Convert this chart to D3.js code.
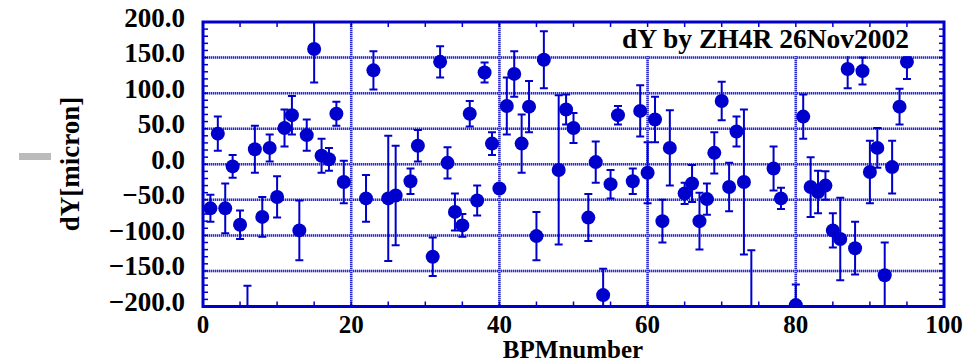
<!DOCTYPE html>
<html>
<head>
<meta charset="utf-8">
<script src="https://cdnjs.cloudflare.com/ajax/libs/d3/7.8.5/d3.min.js"></script>
<style>
    body { margin: 0; background: #fff; }
    text { font-family: "Liberation Serif", "Times New Roman", serif; font-weight: bold; fill: #000; }
</style>
</head>
<body>
<div id="chart"></div>
<script>
let bpm = [1, 2, 3, 4, 5, 6, 7, 8, 9, 10, 11, 12, 13, 14, 15, 16, 17, 18, 19, 22,
    23, 25, 26, 28, 29, 31, 32, 33, 34, 35, 36, 37, 38, 39, 40, 41, 42, 43, 44, 45,
    46, 48, 49, 50, 52, 53, 54, 55, 56, 58, 59, 60, 61, 62, 63, 65, 66, 67, 68, 69,
    70, 71, 72, 73, 74, 77, 78, 80, 81, 82, 83, 84, 85, 86, 87, 88, 89, 90, 91, 92,
    93, 94, 95]

let dy = [-62, 43, -62, -3, -85, -225, 21, -74, 23, -46, 51, 69, -93, 41, 162, 12, 7, 71, -25, -48,
    132, -48, -44, -24, 26, -130, 144, 2, -67, -86, 71, -51, 129, 29, -34, 82, 127, 29, 81, -101,
    147, -8, 77, 51, -75, 3, -184, -28, 69, -24, 75, -12, 63, -80, 23, -41, -27, -80, -49, 16,
    89, -32, 46, -25, -240, -6, -48, -198, 67, -32, -39, -30, -93, -105, 134, -118, 131, -11, 23, -156,
    -4, 81, 144]

let dyErr = [19, 24, 35, 16, 20, 54, 33, 28, 19, 29, 26, 27, 42, 22, 47, 24, 16, 17, 30, 33,
    27, 88, 70, 18, 22, 27, 22, 22, 26, 16, 18, 21, 14, 16, 5, 40, 32, 41, 36, 34,
    40, 105, 21, 21, 33, 29, 37, 20, 13, 18, 36, 43, 32, 30, 53, 15, 26, 40, 22, 29,
    27, 34, 21, 102, 119, 31, 15, 29, 31, 42, 30, 20, 24, 58, 27, 37, 19, 44, 28, 46,
    37, 25, 24]

let yTicks = [200, 150, 100, 50, 0, -50, -100, -150, -200]
let xTicks = [0, 20, 40, 60, 80, 100]

let blue = "#0000cc"

let width = 979
let height = 364
let plot = { left: 203, right: 944, top: 22, bottom: 306.5 }

let svg = d3.select('#chart')
    .append('svg')
    .attr('width', width)
    .attr('height', height)

let xScale = d3.scaleLinear()
    .domain([0, 100])
    .range([plot.left, plot.right])

let yScale = d3.scaleLinear()
    .domain([-200, 200])
    .range([plot.bottom, plot.top])

svg.append('clipPath')
    .attr('id', 'plot-clip')
    .append('rect')
    .attr('x', plot.left)
    .attr('y', plot.top)
    .attr('width', plot.right - plot.left)
    .attr('height', plot.bottom - plot.top)

// grid lines: light band with a fine blue hatch on top
function drawGrid(cls, data, horizontal) {
    let g = svg.append('g').attr('class', cls)
    let layers = [
        { color: '#a8a8f0', dash: null },
        { color: '#2a2ad0', dash: '1,1' }
    ]
    layers.forEach(l => {
        g.append('g')
            .selectAll('line')
            .data(data)
            .enter()
            .append('line')
            .attr('x1', d => horizontal ? plot.left : xScale(d))
            .attr('x2', d => horizontal ? plot.right : xScale(d))
            .attr('y1', d => horizontal ? yScale(d) : plot.top)
            .attr('y2', d => horizontal ? yScale(d) : plot.bottom)
            .attr('stroke', l.color)
            .attr('stroke-width', 2.5)
            .attr('stroke-dasharray', l.dash)
    })
}

drawGrid('hgrid', yTicks.filter(d => d > -200 && d < 200), true)
drawGrid('vgrid', xTicks.filter(d => d > 0 && d < 100), false)

let points = bpm.map((n, i) => ({ n: n, v: dy[i], e: dyErr[i] }))

let marks = svg.append('g')
    .attr('clip-path', 'url(#plot-clip)')

let bars = marks.selectAll('.err')
    .data(points)
    .enter()
    .append('g')
    .attr('class', 'err')
    .attr('stroke', blue)
    .attr('stroke-width', 2)

bars.append('line')
    .attr('x1', d => xScale(d.n))
    .attr('x2', d => xScale(d.n))
    .attr('y1', d => yScale(d.v + d.e))
    .attr('y2', d => yScale(d.v - d.e))

bars.append('line')
    .attr('x1', d => xScale(d.n) - 4)
    .attr('x2', d => xScale(d.n) + 4)
    .attr('y1', d => yScale(d.v + d.e))
    .attr('y2', d => yScale(d.v + d.e))

bars.append('line')
    .attr('x1', d => xScale(d.n) - 4)
    .attr('x2', d => xScale(d.n) + 4)
    .attr('y1', d => yScale(d.v - d.e))
    .attr('y2', d => yScale(d.v - d.e))

marks.selectAll('circle')
    .data(points)
    .enter()
    .append('circle')
    .attr('cx', d => xScale(d.n))
    .attr('cy', d => yScale(d.v))
    .attr('r', 7)
    .attr('fill', blue)

// title box
svg.append('rect')
    .attr('x', 606)
    .attr('y', plot.top)
    .attr('width', plot.right - 606)
    .attr('height', yScale(150) - plot.top - 1.5)
    .attr('fill', '#fff')

svg.append('text')
    .attr('x', 622)
    .attr('y', 48)
    .attr('font-size', '27.5px')
    .text('dY by ZH4R 26Nov2002')

// frame
svg.append('rect')
    .attr('x', plot.left)
    .attr('y', plot.top)
    .attr('width', plot.right - plot.left)
    .attr('height', plot.bottom - plot.top)
    .attr('fill', 'none')
    .attr('stroke', blue)
    .attr('stroke-width', 3)

// minor ticks
let yMinor = d3.range(-190, 200, 10)
let xMinor = d3.range(5, 100, 5)
let ticks = svg.append('g')
    .attr('stroke', blue)
    .attr('stroke-width', 1.5)

ticks.selectAll('.yl')
    .data(yMinor)
    .enter()
    .append('line')
    .attr('x1', plot.left)
    .attr('x2', plot.left + 5)
    .attr('y1', d => yScale(d))
    .attr('y2', d => yScale(d))

ticks.selectAll('.yr')
    .data(yMinor)
    .enter()
    .append('line')
    .attr('x1', plot.right)
    .attr('x2', plot.right - 5)
    .attr('y1', d => yScale(d))
    .attr('y2', d => yScale(d))

ticks.selectAll('.xb')
    .data(xMinor)
    .enter()
    .append('line')
    .attr('x1', d => xScale(d))
    .attr('x2', d => xScale(d))
    .attr('y1', plot.bottom)
    .attr('y2', plot.bottom - 5)

ticks.selectAll('.xt')
    .data(xMinor)
    .enter()
    .append('line')
    .attr('x1', d => xScale(d))
    .attr('x2', d => xScale(d))
    .attr('y1', plot.top)
    .attr('y2', plot.top + 5)

// tick labels
svg.selectAll('.ylab')
    .data(yTicks)
    .enter()
    .append('text')
    .attr('class', 'ylab')
    .attr('x', 185)
    .attr('y', d => yScale(d) + 4.5)
    .attr('text-anchor', 'end')
    .attr('font-size', '27px')
    .text(d => d3.format('.1f')(d))

svg.selectAll('.xlab')
    .data(xTicks)
    .enter()
    .append('text')
    .attr('class', 'xlab')
    .attr('x', d => xScale(d))
    .attr('y', 333)
    .attr('text-anchor', 'middle')
    .attr('font-size', '25px')
    .text(d => d)

svg.append('text')
    .attr('x', 573)
    .attr('y', 358)
    .attr('text-anchor', 'middle')
    .attr('font-size', '25px')
    .text('BPMnumber')

svg.append('text')
    .attr('transform', 'translate(79, 164) rotate(-90)')
    .attr('text-anchor', 'middle')
    .attr('font-size', '27px')
    .text('dY[micron]')

// small grey marker at left
svg.append('rect')
    .attr('x', 19)
    .attr('y', 153)
    .attr('width', 32)
    .attr('height', 7)
    .attr('fill', '#bbbbbb')
</script>
</body>
</html>
